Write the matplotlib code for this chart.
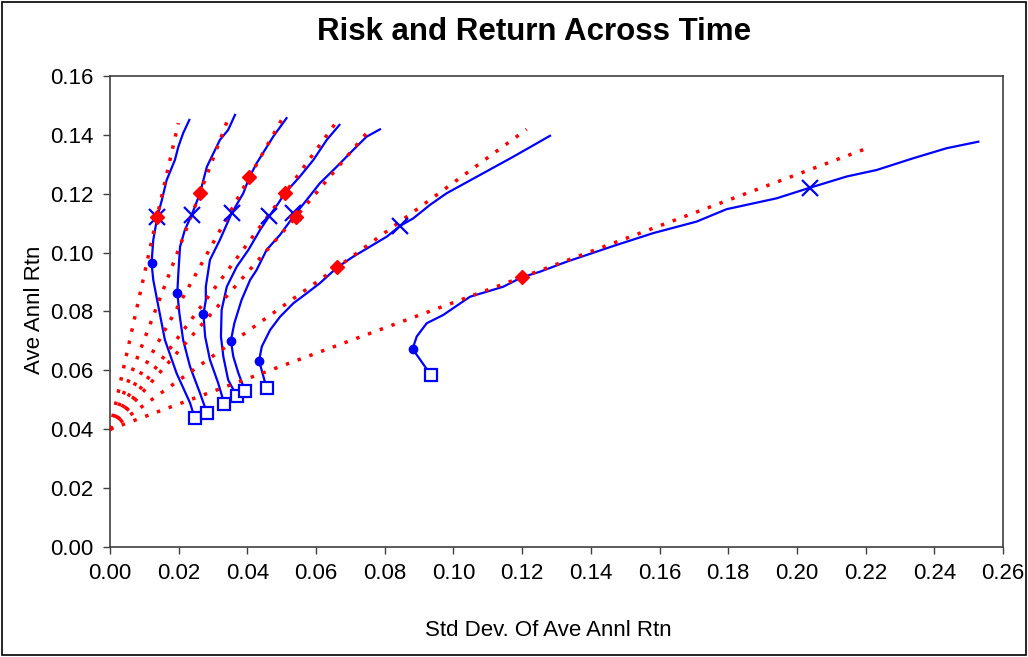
import matplotlib
matplotlib.use("Agg")
import matplotlib.pyplot as plt
from matplotlib.patches import Rectangle

plt.rcParams['font.family'] = ['Liberation Sans', 'DejaVu Sans']

# blue curves: one frontier per horizon
f1_x = [0.0247, 0.0233, 0.0194, 0.0160, 0.0141, 0.0126, 0.0121, 0.0126, 0.0138, 0.0151, 0.0165, 0.0189, 0.0199, 0.0213, 0.0231]
f1_y = [0.0437, 0.0490, 0.0590, 0.0703, 0.0816, 0.0907, 0.0964, 0.1043, 0.1122, 0.1178, 0.1246, 0.1314, 0.1359, 0.1405, 0.1450]
f2_x = [0.0282, 0.0262, 0.0233, 0.0213, 0.0202, 0.0196, 0.0199, 0.0204, 0.0218, 0.0238, 0.0262, 0.0282, 0.0320, 0.0344, 0.0364]
f2_y = [0.0457, 0.0523, 0.0613, 0.0703, 0.0794, 0.0864, 0.0930, 0.1020, 0.1077, 0.1128, 0.1201, 0.1291, 0.1382, 0.1416, 0.1467]
f3_x = [0.0333, 0.0315, 0.0291, 0.0277, 0.0272, 0.0279, 0.0279, 0.0291, 0.0320, 0.0354, 0.0388, 0.0406, 0.0427, 0.0475, 0.0514]
f3_y = [0.0486, 0.0557, 0.0636, 0.0715, 0.0791, 0.0839, 0.0884, 0.0975, 0.1043, 0.1133, 0.1201, 0.1256, 0.1303, 0.1393, 0.1456]
f4_x = [0.0369, 0.0344, 0.0330, 0.0323, 0.0325, 0.0340, 0.0369, 0.0403, 0.0437, 0.0464, 0.0490, 0.0509, 0.0553, 0.0592, 0.0631, 0.0668]
f4_y = [0.0513, 0.0568, 0.0647, 0.0715, 0.0805, 0.0884, 0.0952, 0.1009, 0.1077, 0.1124, 0.1167, 0.1201, 0.1258, 0.1314, 0.1382, 0.1433]
f5_x = [0.0393, 0.0374, 0.0359, 0.0352, 0.0362, 0.0383, 0.0408, 0.0427, 0.0456, 0.0495, 0.0536, 0.0573, 0.0611, 0.0660, 0.0708, 0.0747, 0.0786]
f5_y = [0.0531, 0.0590, 0.0647, 0.0701, 0.0760, 0.0839, 0.0907, 0.0941, 0.1009, 0.1060, 0.1125, 0.1179, 0.1235, 0.1291, 0.1348, 0.1393, 0.1418]
f6_x = [0.0456, 0.0434, 0.0442, 0.0466, 0.0495, 0.0534, 0.0573, 0.0611, 0.0662, 0.0708, 0.0757, 0.0806, 0.0844, 0.0883, 0.0932, 0.0980, 0.1077, 0.1174, 0.1281]
f6_y = [0.0540, 0.0633, 0.0681, 0.0737, 0.0782, 0.0828, 0.0862, 0.0896, 0.0950, 0.0986, 0.1020, 0.1054, 0.1090, 0.1116, 0.1162, 0.1201, 0.1263, 0.1325, 0.1396]
f7_x = [0.0934, 0.0881, 0.0893, 0.0922, 0.0970, 0.1048, 0.1145, 0.1199, 0.1252, 0.1330, 0.1465, 0.1582, 0.1708, 0.1795, 0.1941, 0.2038, 0.2145, 0.2232, 0.2339, 0.2436, 0.2528]
f7_y = [0.0585, 0.0673, 0.0715, 0.0760, 0.0788, 0.0850, 0.0884, 0.0916, 0.0935, 0.0969, 0.1022, 0.1066, 0.1105, 0.1147, 0.1184, 0.1220, 0.1258, 0.1280, 0.1320, 0.1354, 0.1376]

# markers on the frontiers
square_x = [0.0247, 0.0282, 0.0333, 0.0369, 0.0393, 0.0456, 0.0934]
square_y = [0.0437, 0.0457, 0.0486, 0.0513, 0.0531, 0.0540, 0.0585]
minvar_x = [0.0121, 0.0196, 0.0272, 0.0352, 0.0434, 0.0881]
minvar_y = [0.0964, 0.0864, 0.0791, 0.0701, 0.0633, 0.0673]
cross_x = [0.0138, 0.0238, 0.0354, 0.0464, 0.0533, 0.0844, 0.2038]
cross_y = [0.1122, 0.1128, 0.1133, 0.1124, 0.1133, 0.1090, 0.1220]

# red dotted lines: risk free rate -> tangency (diamond) -> end
rf = 0.040
tan_x = [0.0137, 0.0262, 0.0406, 0.0509, 0.0541, 0.0662, 0.1199]
tan_y = [0.1122, 0.1201, 0.1256, 0.1201, 0.1120, 0.0950, 0.0916]
end_x = [0.0199, 0.0349, 0.0509, 0.0660, 0.0747, 0.1213, 0.2198]
end_y = [0.1439, 0.1470, 0.1470, 0.1444, 0.1405, 0.1418, 0.1351]

frontiers = [(f1_x, f1_y), (f2_x, f2_y), (f3_x, f3_y), (f4_x, f4_y),
             (f5_x, f5_y), (f6_x, f6_y), (f7_x, f7_y)]

blue = '#0000FF'
red = '#FF0000'
grey = '#404040'

fig = plt.figure(figsize=(10.28, 6.57), dpi=100)
ax = fig.add_axes([0.107, 0.167, 0.8687, 0.7178])

for fx, fy in frontiers:
    ax.plot(fx, fy, color=blue, lw=1.6, zorder=3)

for i in range(len(tan_x)):
    ax.plot([0, tan_x[i], end_x[i]], [rf, tan_y[i], end_y[i]], color=red,
            lw=2.5, ls=(0, (1, 2.6)), zorder=4)

ax.plot(square_x, square_y, ls='none', marker='s', ms=9, mfc='white', mec=blue, mew=1.6, zorder=5)
ax.plot(minvar_x, minvar_y, ls='none', marker='o', ms=6, color=blue, zorder=5)
ax.plot(cross_x, cross_y, ls='none', marker='x', ms=11, mec=blue, mew=1.6, zorder=5)
ax.plot(tan_x, tan_y, ls='none', marker='D', ms=7.5, color=red, zorder=6)

ax.set_xlim(0, 0.26)
ax.set_ylim(0, 0.16)
ax.set_xticks([i * 0.02 for i in range(14)])
ax.set_yticks([i * 0.02 for i in range(9)])
ax.xaxis.set_major_formatter(plt.FormatStrFormatter('%.2f'))
ax.yaxis.set_major_formatter(plt.FormatStrFormatter('%.2f'))
ax.tick_params(direction='out', length=5, width=1, color=grey, labelsize=16)
ax.tick_params(axis='x', pad=6)
ax.tick_params(axis='y', pad=7)
for s in ax.spines.values():
    s.set_color(grey)
    s.set_linewidth(1.2)

fig.text(0.5195, 0.951, 'Risk and Return Across Time', ha='center', va='center',
         fontsize=22.5, fontweight='bold')
fig.text(0.5337, 0.041, 'Std Dev. Of Ave Annl Rtn', ha='center', va='center', fontsize=16)
fig.text(0.034, 0.528, 'Ave Annl Rtn', ha='center', va='center', rotation=90, fontsize=16)

# chart area border
fig.patches.append(Rectangle((0.002, 0.003), 0.996, 0.994, transform=fig.transFigure,
                             fill=False, ec='black', lw=1.2))

fig.savefig('out.png', dpi=100)
